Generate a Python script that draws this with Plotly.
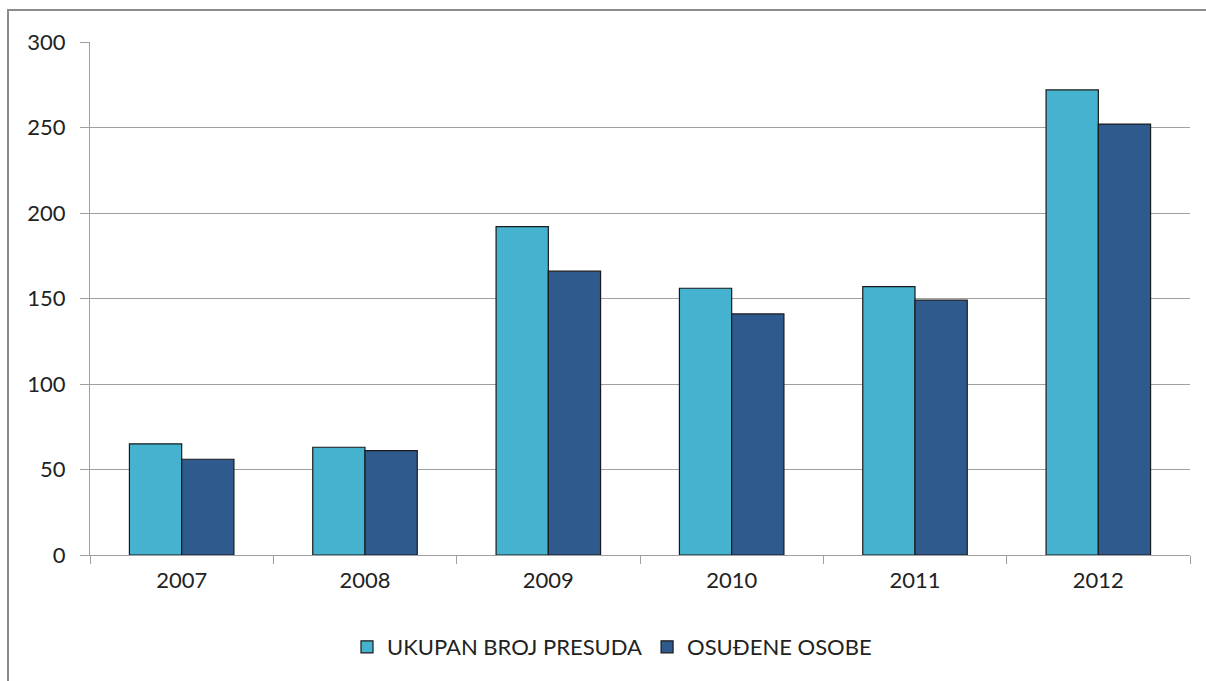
import plotly.graph_objects as go

years = ["2007", "2008", "2009", "2010", "2011", "2012"]
ukupan = [65, 63, 192, 156, 157, 272]
osudene = [56, 61, 166, 141, 149, 252]
series_names = ["UKUPAN BROJ PRESUDA", "OSUĐENE OSOBE"]
y_ticks = [0, 50, 100, 150, 200, 250, 300]

FONT = "Lato, Carlito, 'Liberation Sans', sans-serif"

fig = go.Figure()
fig.add_trace(go.Bar(x=years, y=ukupan, name=series_names[0],
                     marker=dict(color="#45B3CF", line=dict(color="#1a1a1a", width=1.2))))
fig.add_trace(go.Bar(x=years, y=osudene, name=series_names[1],
                     marker=dict(color="#2F5A8E", line=dict(color="#1a1a1a", width=1.2))))

# outer chart border (gray)
L, R, T, B = 90, 1190, 42, 555
W, H = R - L, B - T
def px(xp): return (xp - L) / W
def py(yp): return (B - yp) / H
fig.add_shape(type="rect", xref="paper", yref="paper",
              x0=px(8), x1=px(1230), y0=py(700), y1=py(10),
              line=dict(color="#8C8C8C", width=2), fillcolor="rgba(0,0,0,0)", layer="below")

fig.update_layout(
    width=1206, height=681,
    margin=dict(l=L, r=1206 - R, t=T, b=681 - B),
    paper_bgcolor="white", plot_bgcolor="white",
    barmode="group", bargap=0.43, bargroupgap=0,
    font=dict(family=FONT, size=22, color="#222222"),
    showlegend=True,
    legend=dict(orientation="h", x=px(612), xanchor="center", y=py(647), yanchor="middle",
                font=dict(family=FONT, size=22, color="#222222"), itemwidth=30,
                traceorder="normal"),
    xaxis=dict(type="category", showline=True, linecolor="#A0A0A0", linewidth=1,
               ticks="outside", tickson="boundaries", ticklen=8, tickcolor="#A0A0A0",
               showgrid=False, tickfont=dict(size=22), ticklabelstandoff=6),
    yaxis=dict(range=[0, 300], tickvals=y_ticks, showline=True, linecolor="#A0A0A0",
               linewidth=1, ticks="outside", ticklen=9, tickcolor="#A0A0A0",
               showgrid=True, gridcolor="#A0A0A0", gridwidth=1, zeroline=False,
               tickfont=dict(size=22), ticklabelstandoff=10),
)

fig.write_html("out.html", config={"displayModeBar": False},
               post_script="document.body.style.margin='0px';document.body.style.overflow='hidden';")
